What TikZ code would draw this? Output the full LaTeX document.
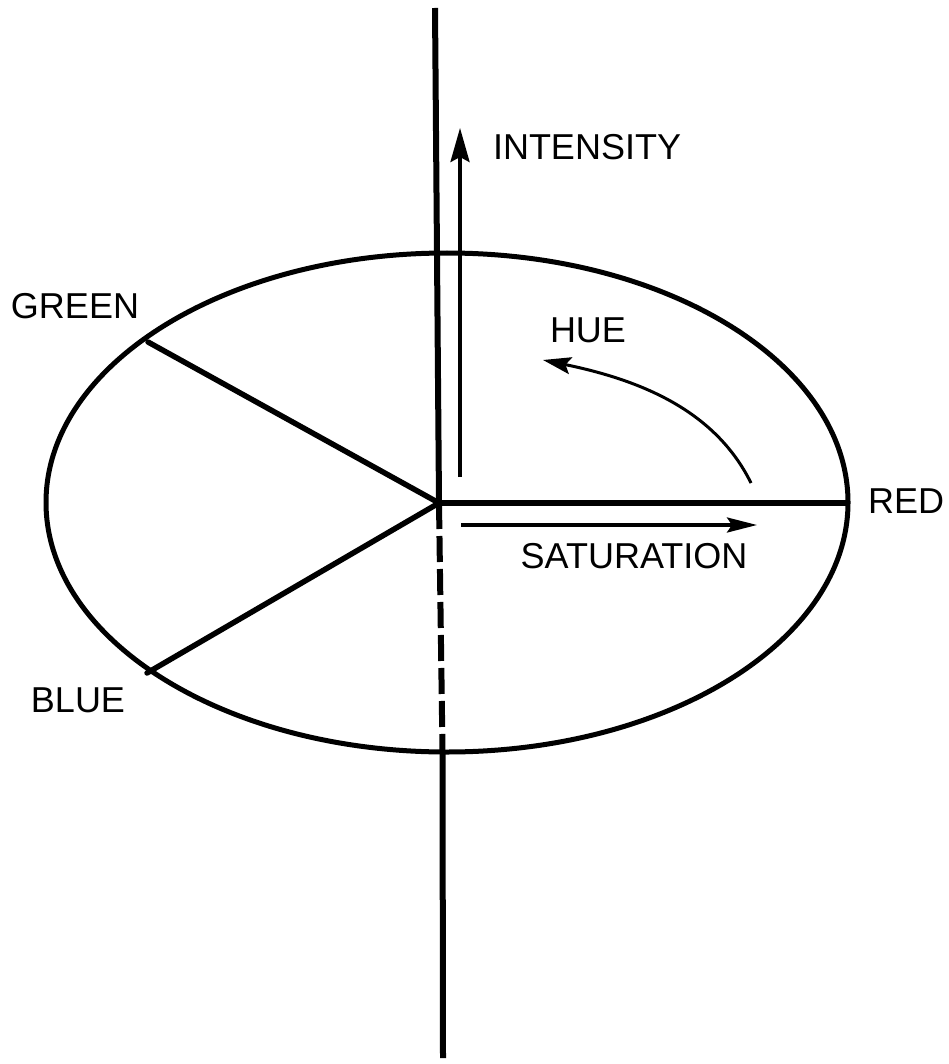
\documentclass[tikz,border=0pt]{standalone}
\usepackage{fontspec}
\setmainfont{Liberation Sans}
\usetikzlibrary{arrows.meta}
\begin{document}
\begin{tikzpicture}[x=1pt,y=-1pt,
  axis/.style={line width=6pt},
  spoke/.style={line width=5.5pt},
  rim/.style={line width=5pt},
  dashaxis/.style={line width=6pt,dash pattern=on 26pt off 7pt},
  arr/.style={line width=3.5pt},
  lbl/.style={inner sep=0pt,font=\fontsize{36}{40}\selectfont}]
\useasboundingbox (0,0) rectangle (949,1064);
% coordinates
\coordinate (top) at (435,8);
\coordinate (c) at (439,503);
\coordinate (eb) at (442.5,751);
\coordinate (bot) at (443,1058);
\coordinate (g) at (148,342);
\coordinate (b) at (147,673);
\coordinate (r) at (847,503);
\coordinate (i0) at (460,477);
\coordinate (i1) at (460,128);
\coordinate (s0) at (461,525);
\coordinate (s1) at (757,525);
\coordinate (h0) at (751,483);
\coordinate (h1) at (543,360);
% ellipse
\draw[rim] (447,502.5) ellipse [x radius=401, y radius=249.5];
% vertical axis
\draw[axis] (top) -- (c);
\draw[dashaxis] (c) -- (eb);
\draw[axis] (eb) -- (bot);
% spokes
\draw[spoke,line cap=round] (c) -- (g);
\draw[spoke,line cap=round] (c) -- (b);
\draw[spoke] (c) -- (r);
% arrows
\draw[arr,-{Stealth[length=34pt,width=19pt,inset=5pt]}] (i0) -- (i1);
\draw[arr,-{Stealth[length=30pt,width=15pt,inset=5pt]}] (s0) -- (s1);
\draw[line width=3pt,-{Stealth[length=28pt,width=17pt,inset=5pt]}] (h0) .. controls (715,410) and (640,380) .. (h1);
% labels
\node[lbl] (tint) at (587,147) {INTENSITY};
\node[lbl] (thue) at (588,330) {HUE};
\node[lbl] (tgreen) at (75,306) {GREEN};
\node[lbl] (tblue) at (78,700) {BLUE};
\node[lbl] (tred) at (906,501) {RED};
\node[lbl] (tsat) at (634,556) {SATURATION};
\end{tikzpicture}
\end{document}
